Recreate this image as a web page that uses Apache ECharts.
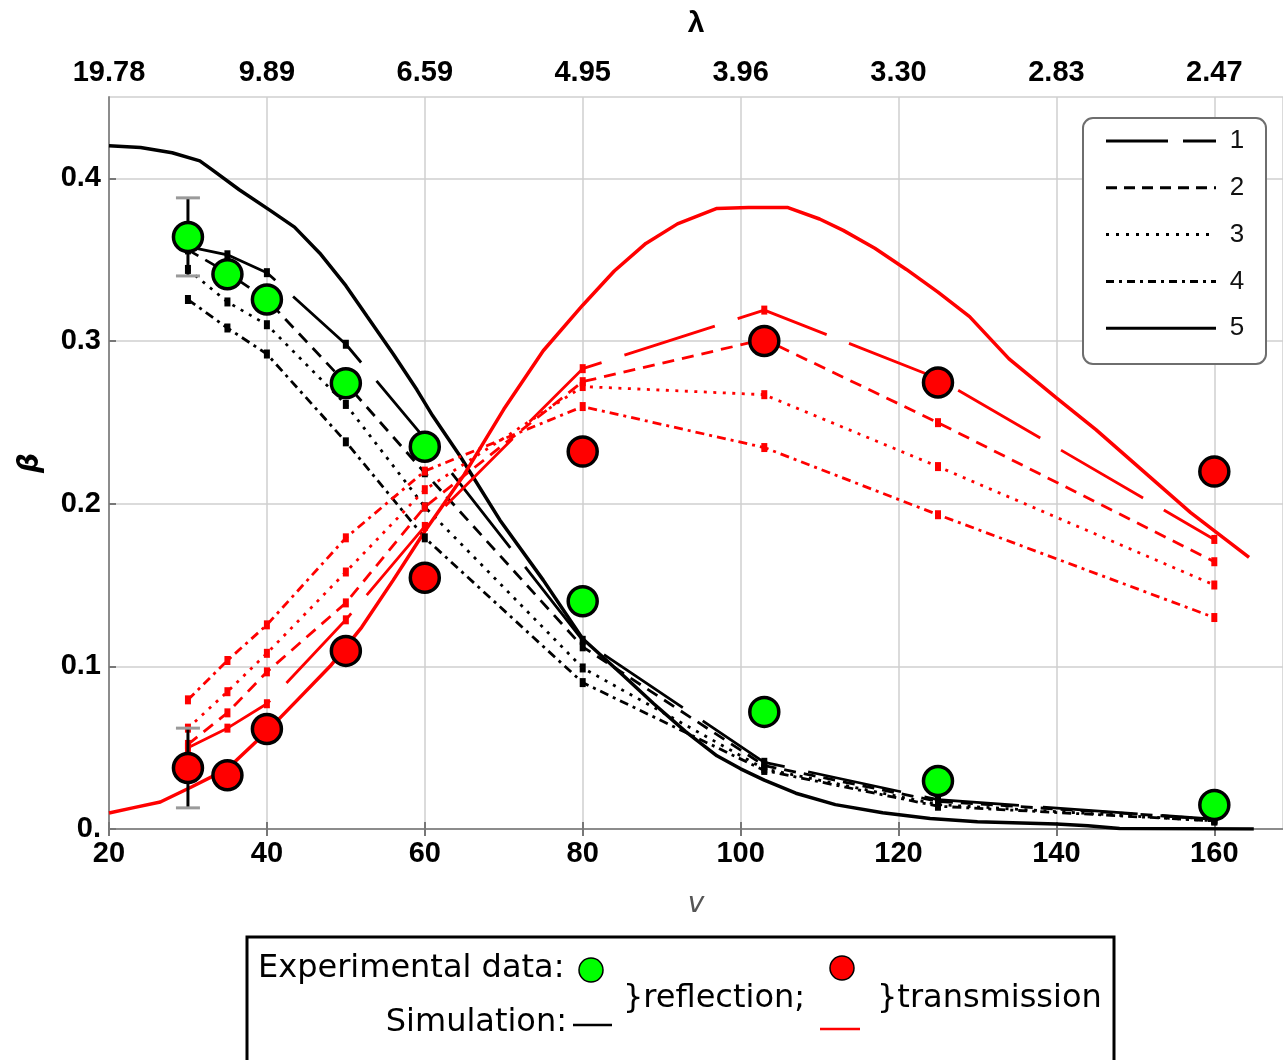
<!DOCTYPE html>
<html>
<head>
<meta charset="utf-8">
<title>Reflection and transmission coefficients</title>
<script src="https://cdn.jsdelivr.net/npm/echarts@6/dist/echarts.min.js"></script>
<style>
  html, body { margin: 0; padding: 0; background: #fff; }
  #chart { width: 1283px; height: 1060px; }
</style>
</head>
<body>
<div id="chart"></div>
<script>
// Frequencies at which simulations 1-4 were evaluated, and the measurements
const vSim = [30, 35, 40, 50, 60, 80, 103, 125, 160];
const vExp = [30, 35, 40, 50, 60, 80, 103, 125, 160];

// Reflection coefficient, simulations 1-4 (black)
const refl1 = [0.358, 0.353, 0.342, 0.298, 0.240, 0.116, 0.041, 0.018, 0.006];
const refl2 = [0.356, 0.342, 0.3255, 0.274, 0.219, 0.112, 0.039, 0.017, 0.006];
const refl3 = [0.344, 0.324, 0.310, 0.261, 0.198, 0.099, 0.037, 0.015, 0.005];
const refl4 = [0.3255, 0.308, 0.292, 0.238, 0.179, 0.090, 0.036, 0.014, 0.005];

// Transmission coefficient, simulations 1-4 (red)
const trans1 = [0.050, 0.062, 0.077, 0.1286, 0.186, 0.283, 0.319, 0.277, 0.178];
const trans2 = [0.052, 0.0714, 0.0966, 0.139, 0.198, 0.275, 0.301, 0.2498, 0.1643];
const trans3 = [0.062, 0.0844, 0.108, 0.158, 0.2086, 0.272, 0.267, 0.2228, 0.150];
const trans4 = [0.0794, 0.1036, 0.1255, 0.179, 0.220, 0.2597, 0.2345, 0.1932, 0.130];

// Simulation 5, sampled densely
const vRefl5 = [20, 24, 28, 31.5, 33, 36.5, 40.5, 43.5, 46.7, 50, 52.7, 56, 59, 61, 64.5, 69.5, 75, 80, 85, 89, 93, 97, 100, 103, 107, 112, 118, 124, 130, 140, 144, 148, 165];
const refl5 = [0.420, 0.419, 0.4157, 0.4107, 0.4055, 0.393, 0.380, 0.370, 0.354, 0.334, 0.315, 0.292, 0.270, 0.254, 0.229, 0.190, 0.153, 0.117, 0.095, 0.077, 0.060, 0.045, 0.037, 0.030, 0.022, 0.015, 0.010, 0.0065, 0.0045, 0.003, 0.002, 0.0003, 0.0];
const vTrans5 = [20, 23, 26.5, 30.5, 35, 40, 44, 48, 52, 56, 60, 65, 70, 75, 80, 84, 88, 92, 97, 101, 106, 110, 113, 117, 121, 125, 129, 134, 140, 145, 151, 157, 164.4];
const trans5 = [0.0098, 0.013, 0.0166, 0.026, 0.037, 0.060, 0.080, 0.100, 0.124, 0.153, 0.183, 0.218, 0.258, 0.294, 0.322, 0.343, 0.360, 0.372, 0.3815, 0.382, 0.382, 0.375, 0.368, 0.357, 0.344, 0.330, 0.315, 0.289, 0.265, 0.2455, 0.220, 0.1945, 0.167];

// Measured reflection and transmission
const reflExp = [0.364, 0.341, 0.3255, 0.274, 0.235, 0.140, 0.072, 0.0295, 0.0148];
const transExp = [0.0375, 0.033, 0.0615, 0.1095, 0.1545, 0.232, 0.300, 0.2745, 0.2197];

// Error bars: [v, low, high]
const reflErr = [[30, 0.340, 0.388]];
const transErr = [[30, 0.013, 0.062]];

// Axis tick labels
const vTicks = [20, 40, 60, 80, 100, 120, 140, 160];
const lambdaTicks = ['19.78', '9.89', '6.59', '4.95', '3.96', '3.30', '2.83', '2.47'];
const betaTicks = ['0.', '0.1', '0.2', '0.3', '0.4'];
const simNames = ['1', '2', '3', '4', '5'];

const pairs = (xs, ys) => xs.map((x, i) => [x, ys[i]]);

const dashes = [
  [95, 24],        // 1: long dash
  [12, 8],         // 2: dashed
  [3, 6.5],        // 3: dotted
  [9, 5, 3, 5],    // 4: dash-dot
  null             // 5: solid
];
const legendDashes = [[62, 15], [11, 7], [3, 7], [8, 5, 3, 5], null];

function simSeries(data, color, k) {
  return {
    type: 'line',
    data: pairs(vSim, data),
    symbol: 'rect',
    symbolSize: [6, 9],
    showSymbol: true,
    itemStyle: { color: color },
    lineStyle: { color: color, width: 2.8, type: dashes[k], cap: 'butt' },
    z: 2,
    silent: true
  };
}

function curveSeries(xs, ys, color) {
  return {
    type: 'line',
    data: pairs(xs, ys),
    symbol: 'none',
    lineStyle: { color: color, width: 3.5 },
    z: 2,
    silent: true
  };
}

function errSeries(data) {
  return {
    type: 'custom',
    data: data,
    encode: { x: 0, y: [1, 2] },
    z: 3,
    renderItem: function (params, api) {
      const x = api.value(0);
      const lo = api.coord([x, api.value(1)]);
      const hi = api.coord([x, api.value(2)]);
      const h = 12;
      return {
        type: 'group',
        children: [
          { type: 'line', shape: { x1: lo[0], y1: lo[1], x2: hi[0], y2: hi[1] }, style: { stroke: '#000', lineWidth: 3 } },
          { type: 'line', shape: { x1: hi[0] - h, y1: hi[1], x2: hi[0] + h, y2: hi[1] }, style: { stroke: '#9a9a9a', lineWidth: 3 } },
          { type: 'line', shape: { x1: lo[0] - h, y1: lo[1], x2: lo[0] + h, y2: lo[1] }, style: { stroke: '#9a9a9a', lineWidth: 3 } }
        ]
      };
    }
  };
}

function expSeries(ys, color) {
  return {
    type: 'scatter',
    data: pairs(vExp, ys),
    symbol: 'circle',
    symbolSize: 29,
    itemStyle: { color: color, borderColor: '#000', borderWidth: 3.5, opacity: 1 },
    z: 5,
    silent: true
  };
}

const tickFont = { fontFamily: 'Liberation Sans', fontWeight: 'bold', fontSize: 29, color: '#000' };
const axisGray = '#8c8c8c';

// Legend of line styles (top right)
const legendGraphics = [];
const lg = { x: 1083, y: 118, w: 183, h: 246 };
legendGraphics.push({
  type: 'rect', z: 20,
  shape: { x: lg.x, y: lg.y, width: lg.w, height: lg.h, r: 10 },
  style: { fill: '#fff', stroke: '#6e6e6e', lineWidth: 2 }
});
simNames.forEach((name, i) => {
  const yy = 141 + i * 46.8;
  legendGraphics.push({
    type: 'line', z: 21,
    shape: { x1: 1106, y1: yy, x2: 1216, y2: yy },
    style: { stroke: '#000', lineWidth: 3, lineDash: legendDashes[i], lineCap: 'butt' }
  });
  legendGraphics.push({
    type: 'text', z: 21,
    style: { text: name, x: 1237, y: yy, align: 'center', verticalAlign: 'middle',
             font: '26px "Liberation Sans"', fill: '#111' }
  });
});

// Key for markers and colours (bottom)
const keyFont = '32px "DejaVu Sans"';
const keyGraphics = [
  { type: 'rect', z: 20, shape: { x: 247, y: 937, width: 867, height: 160 },
    style: { fill: '#fff', stroke: '#000', lineWidth: 3 } },
  { type: 'text', z: 21, style: { text: 'Experimental data:', x: 258, y: 969, align: 'left', verticalAlign: 'middle', font: keyFont, fill: '#000' } },
  { type: 'circle', z: 21, shape: { cx: 591, cy: 970, r: 12 }, style: { fill: '#00ff00', stroke: '#000', lineWidth: 1.5 } },
  { type: 'text', z: 21, style: { text: 'Simulation:', x: 567, y: 1023, align: 'right', verticalAlign: 'middle', font: keyFont, fill: '#000' } },
  { type: 'line', z: 21, shape: { x1: 573, y1: 1025, x2: 612, y2: 1025 }, style: { stroke: '#000', lineWidth: 2.5 } },
  { type: 'text', z: 21, style: { text: '}reflection;', x: 623, y: 999, align: 'left', verticalAlign: 'middle', font: keyFont, fill: '#000' } },
  { type: 'circle', z: 21, shape: { cx: 842, cy: 968, r: 12 }, style: { fill: '#ff0000', stroke: '#000', lineWidth: 1.5 } },
  { type: 'line', z: 21, shape: { x1: 820, y1: 1029, x2: 860, y2: 1029 }, style: { stroke: '#ff0000', lineWidth: 2.5 } },
  { type: 'text', z: 21, style: { text: '}transmission', x: 877, y: 999, align: 'left', verticalAlign: 'middle', font: keyFont, fill: '#000' } }
];

const chart = echarts.init(document.getElementById('chart'), null, { renderer: 'canvas' });
chart.setOption({
  animation: false,
  backgroundColor: '#fff',
  grid: { left: 109, top: 97, right: 0, bottom: 231, containLabel: false },
  xAxis: [
    {
      type: 'value', position: 'bottom', min: 20, max: 168.7, interval: 20,
      name: 'v', nameLocation: 'middle', nameGap: 62,
      nameTextStyle: { fontFamily: 'DejaVu Sans', fontStyle: 'italic', fontSize: 28, color: '#555' },
      axisLine: { show: true, onZero: false, lineStyle: { color: axisGray, width: 2 } },
      axisTick: { show: true, inside: true, length: 7, lineStyle: { color: '#777', width: 2 } },
      axisLabel: Object.assign({ margin: 10, showMaxLabel: false,
        formatter: v => String(vTicks[vTicks.indexOf(v)] ?? '') }, tickFont),
      splitLine: { show: true, lineStyle: { color: '#cfcfcf', width: 1.5 } }
    },
    {
      type: 'value', position: 'top', min: 20, max: 168.7, interval: 20,
      name: 'λ', nameLocation: 'middle', nameGap: 58,
      nameTextStyle: { fontFamily: 'Liberation Sans', fontWeight: 'bold', fontSize: 30, color: '#000' },
      axisLine: { show: true, lineStyle: { color: axisGray, width: 2 } },
      axisTick: { show: true, inside: true, length: 7, lineStyle: { color: '#777', width: 2 } },
      axisLabel: Object.assign({ margin: 10, showMaxLabel: false,
        formatter: v => lambdaTicks[Math.round((v - 20) / 20)] || '' }, tickFont),
      splitLine: { show: false }
    }
  ],
  yAxis: {
    type: 'value', min: 0, max: 0.45, interval: 0.1,
    name: 'β', nameLocation: 'middle', nameGap: 64, nameRotate: 90,
    nameTextStyle: { fontFamily: 'DejaVu Sans', fontStyle: 'italic', fontWeight: 'bold', fontSize: 28, color: '#000' },
    axisLine: { show: true, lineStyle: { color: axisGray, width: 2 } },
    axisTick: { show: true, inside: true, length: 7, lineStyle: { color: '#777', width: 2 } },
    axisLabel: Object.assign({ margin: 8, showMaxLabel: false,
      formatter: v => betaTicks[Math.round(v * 10)] || '' }, tickFont),
    splitLine: { show: true, lineStyle: { color: '#cfcfcf', width: 1.5 } }
  },
  series: [
    simSeries(refl1, '#000', 0),
    simSeries(refl2, '#000', 1),
    simSeries(refl3, '#000', 2),
    simSeries(refl4, '#000', 3),
    curveSeries(vRefl5, refl5, '#000'),
    simSeries(trans1, '#ff0000', 0),
    simSeries(trans2, '#ff0000', 1),
    simSeries(trans3, '#ff0000', 2),
    simSeries(trans4, '#ff0000', 3),
    curveSeries(vTrans5, trans5, '#ff0000'),
    errSeries(reflErr),
    errSeries(transErr),
    expSeries(reflExp, '#00ff00'),
    expSeries(transExp, '#ff0000')
  ],
  graphic: legendGraphics.concat(keyGraphics)
});
</script>
</body>
</html>
